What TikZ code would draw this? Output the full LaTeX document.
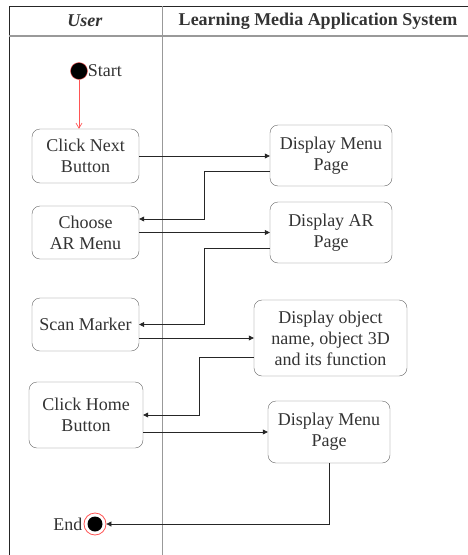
\documentclass[tikz,border=0pt]{standalone}
\usepackage{fontspec}
\setmainfont{Liberation Serif}
\usetikzlibrary{arrows.meta,calc}
\definecolor{txtgray}{HTML}{333333}
\definecolor{boxgray}{HTML}{666666}
\definecolor{lanegray}{HTML}{999999}
\definecolor{startred}{HTML}{FF5555}
\tikzset{
  act/.style={draw=boxgray,rounded corners=8pt,align=center,text=txtgray,
    font=\fontsize{18}{21}\selectfont,inner sep=0pt},
  flow/.style={draw=black!85,line width=0.7pt,-{Triangle[length=5pt,width=5pt]}},
  lbl/.style={text=txtgray,font=\fontsize{18}{21}\selectfont,inner sep=0pt}
}
\begin{document}
\begin{tikzpicture}[x=1pt,y=-1pt]
			\useasboundingbox (0,0) rectangle (468,555);
			% swimlanes
			\draw[black!85,line width=0.8pt] (9,555) -- (9,6) -- (468,6);
			\draw[lanegray,line width=1.5pt] (9,36) -- (468,36);
			\draw[lanegray,line width=0.8pt] (162,6) -- (162,555);
			\node[lbl] (hu) at (85,21){\textbf{\textit{User}}};
			\node[lbl] (hs) at (318,21){\textbf{Learning Media Application System}};
			% start and end
			\node[circle,fill=black,draw=startred,minimum size=17pt,inner sep=0pt] (st) at (79,71){};
			\node[lbl,anchor=west] (stl) at (st.east){Start};
			\node[circle,draw=startred,line width=0.8pt,minimum size=22pt,inner sep=0pt] (en) at (95,524){};
			\node[circle,fill=black,minimum size=15pt,inner sep=0pt] (enc) at (95,524){};
			\node[lbl,anchor=east] (enl) at ([xshift=-1pt]en.west){End};
			% user actions
			\node[act,minimum width=107pt,minimum height=54pt] (cn) at (85.5,156){Click Next\\Button};
			\node[act,minimum width=107pt,minimum height=53pt] (ch) at (85.5,232.5){Choose\\AR Menu};
			\node[act,minimum width=107pt,minimum height=53pt] (sc) at (85.5,324.5){Scan Marker};
			\node[act,minimum width=114pt,minimum height=66pt] (ho) at (86,415){Click Home\\Button};
			% system actions
			\node[act,minimum width=122pt,minimum height=61pt] (dm) at (331,155.5){Display Menu\\Page};
			\node[act,minimum width=122pt,minimum height=61pt] (da) at (331,232.5){Display AR\\Page};
			\node[act,minimum width=153pt,minimum height=76pt] (dob) at (330.5,338){Display object\\name, object 3D\\and its function};
			\node[act,minimum width=122pt,minimum height=62pt] (dm2) at (329,432){Display Menu\\Page};
			% flows
			\draw[startred,line width=0.7pt,-{Straight Barb[length=5pt,width=6pt]}] (st.south) -- (st.south |- cn.north);
			\draw[flow] (cn.east) -- (cn.east -| dm.west);
			\draw[flow] ([yshift=-15.5pt]dm.west) -| (204,219) -- (ch.east |- 0,219);
			\draw[flow] (ch.east) -- (ch.east -| da.west);
			\draw[flow] ([yshift=-15.5pt]da.west) -| (204,324.5) -- (sc.east);
			\draw[flow] ([yshift=-13.5pt]sc.east) -- ([yshift=-13.5pt]sc.east -| dob.west);
			\draw[flow] ([yshift=-19pt]dob.west) -| (199,415) -- (ho.east);
			\draw[flow] ([yshift=-17pt]ho.east) -- ([yshift=-17pt]ho.east -| dm2.west);
			\draw[flow] (dm2.south) |- (en.east);
		\end{tikzpicture}
\end{document}
